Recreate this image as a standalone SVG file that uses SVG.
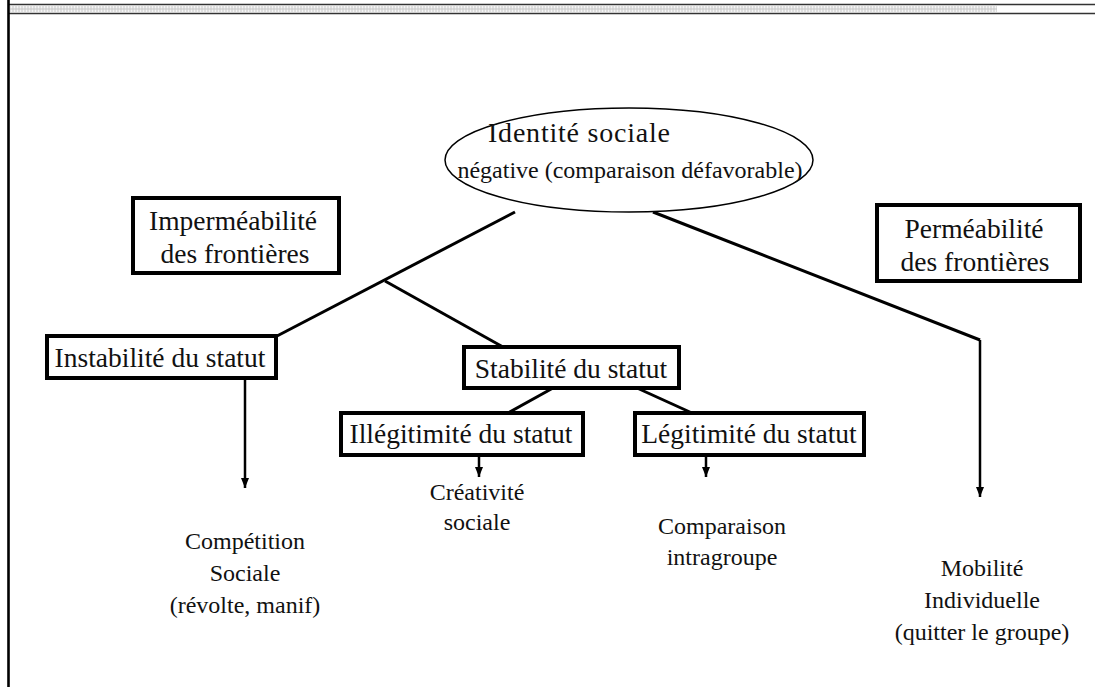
<svg xmlns="http://www.w3.org/2000/svg" width="1095" height="687" viewBox="0 0 1095 687">
  <style>
    .box { fill: #fff; stroke: #000; stroke-width: 4; }
    .lbl { font-family: "Liberation Serif", "Times New Roman", serif; font-size: 27.5px; fill: #111; text-anchor: middle; }
    .out { font-family: "Liberation Serif", "Times New Roman", serif; font-size: 24px; fill: #111; text-anchor: middle; }
    .oval { font-family: "Liberation Serif", "Times New Roman", serif; font-size: 24px; fill: #111; text-anchor: middle; }
    .edge { fill: none; stroke: #000; stroke-width: 3; }
    .arr { fill: none; stroke: #000; stroke-width: 2.5; marker-end: url(#head); }
  </style>
  <defs>
    <pattern id="hatch" width="6" height="6" patternUnits="userSpaceOnUse">
      <rect width="6" height="6" fill="#f4f4f4"/>
      <path d="M1,0 V6 M4,0 V6 M0,3 H6" stroke="#c8c8c8" stroke-width="1"/>
    </pattern>
    <marker id="head" viewBox="0 0 10 8" refX="10" refY="4" markerWidth="10" markerHeight="8" markerUnits="userSpaceOnUse" orient="auto">
      <path d="M0,0 L10,4 L0,8 z" fill="#000"/>
    </marker>
  </defs>

  <rect width="1095" height="687" fill="#fff"/>

  <!-- page frame: header rule and left margin -->
  <g id="frame">
    <line x1="8" y1="4.5" x2="1095" y2="4.5" stroke="#333" stroke-width="1.3"/>
    <rect x="10" y="6" width="987" height="6" fill="url(#hatch)"/>
    <line x1="8" y1="13.5" x2="1095" y2="13.5" stroke="#333" stroke-width="1.5"/>
    <line x1="8.5" y1="0" x2="8.5" y2="687" stroke="#000" stroke-width="2.6"/>
  </g>

  <!-- connectors -->
  <g id="connectors">
    <path class="edge" d="M515,212 L277,336"/>
    <path class="edge" d="M385,281 L503,347"/>
    <path class="edge" d="M553,388 L508,413"/>
    <path class="edge" d="M637,388 L692,413"/>
    <path class="edge" d="M653,212 L980,340"/>
    <path class="arr" d="M980,340 L980,497"/>
    <path class="arr" d="M245,378 L245,488"/>
    <path class="arr" d="M479,455 L479,477"/>
    <path class="arr" d="M706,455 L706,477"/>
  </g>

  <g id="identite">
    <ellipse cx="629" cy="160" rx="184" ry="52" fill="#fff" stroke="#000" stroke-width="1.5"/>
    <text class="oval" x="579" y="142" style="font-size:28px" textLength="182" lengthAdjust="spacing">Identité sociale</text>
    <text class="oval" x="630" y="178">négative (comparaison défavorable)</text>
  </g>

  <g id="impermeabilite">
    <rect class="box" x="133" y="198" width="206" height="75"/>
    <text class="lbl" x="233" y="230">Imperméabilité</text>
    <text class="lbl" x="235" y="263">des frontières</text>
  </g>

  <g id="permeabilite">
    <rect class="box" x="877" y="205" width="203" height="76"/>
    <text class="lbl" x="974" y="238">Perméabilité</text>
    <text class="lbl" x="975" y="271">des frontières</text>
  </g>

  <g id="instabilite">
    <rect class="box" x="47" y="336" width="229" height="42"/>
    <text class="lbl" x="160" y="367">Instabilité du statut</text>
  </g>

  <g id="stabilite">
    <rect class="box" x="464" y="347" width="215" height="41"/>
    <text class="lbl" x="571" y="378">Stabilité du statut</text>
  </g>

  <g id="illegitimite">
    <rect class="box" x="341" y="413" width="242" height="42"/>
    <text class="lbl" x="461" y="443">Illégitimité du statut</text>
  </g>

  <g id="legitimite">
    <rect class="box" x="635" y="413" width="229" height="42"/>
    <text class="lbl" x="749" y="443">Légitimité du statut</text>
  </g>

  <g id="competition">
    <text class="out" x="245" y="549">Compétition</text>
    <text class="out" x="245" y="581">Sociale</text>
    <text class="out" x="245" y="613">(révolte, manif)</text>
  </g>

  <g id="creativite">
    <text class="out" x="477" y="500">Créativité</text>
    <text class="out" x="477" y="530">sociale</text>
  </g>

  <g id="intragroupe">
    <text class="out" x="722" y="534">Comparaison</text>
    <text class="out" x="722" y="565">intragroupe</text>
  </g>

  <g id="mobilite">
    <text class="out" x="982" y="576">Mobilité</text>
    <text class="out" x="982" y="608">Individuelle</text>
    <text class="out" x="982" y="640">(quitter le groupe)</text>
  </g>
</svg>
